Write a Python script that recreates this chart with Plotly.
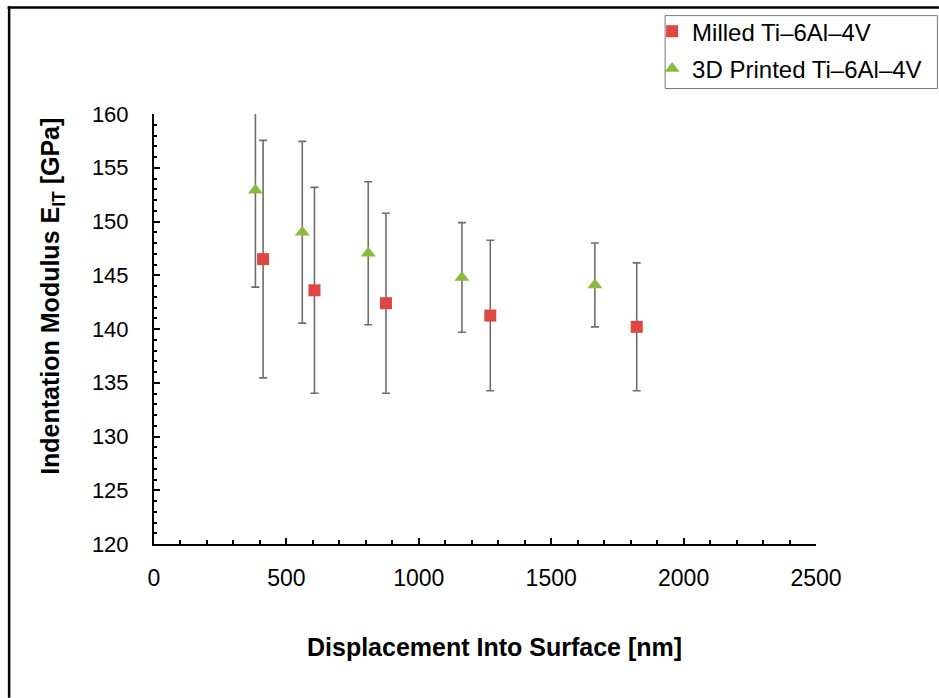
import plotly.graph_objects as go

# Displacement into surface [nm] and indentation modulus [GPa] with standard deviations
milled_depth = [412, 606, 876, 1270, 1823]
milled_modulus = [146.5, 143.6, 142.4, 141.25, 140.2]
milled_sd = [11.05, 9.57, 8.37, 7.0, 5.95]

printed_depth = [383, 560, 809, 1163, 1665]
printed_modulus = [152.9, 149.0, 147.05, 144.8, 144.1]
printed_sd = [9.0, 8.45, 6.65, 5.1, 3.9]

x_ticks = [0, 500, 1000, 1500, 2000, 2500]
y_ticks = [120, 125, 130, 135, 140, 145, 150, 155, 160]

FONT = "Liberation Sans, Arial, sans-serif"
ERR = dict(type="data", symmetric=True, color="rgb(110,110,110)", thickness=1.6, width=4)

fig = go.Figure()
fig.add_trace(go.Scatter(
    x=milled_depth, y=milled_modulus, mode="markers", name="Milled Ti\u20136Al\u20134V",
    legendgroup="milled",
    marker=dict(symbol="square", size=12, color="rgb(222,70,64)"),
    error_y=dict(array=milled_sd, **ERR),
))
fig.add_trace(go.Scatter(
    x=printed_depth, y=printed_modulus, mode="markers", name="3D Printed Ti\u20136Al\u20134V",
    legendgroup="printed",
    marker=dict(symbol="triangle-up", size=13, color="rgb(140,186,62)"),
    error_y=dict(array=printed_sd, **ERR),
))

L, R, T, B = 153.5, 816.0, 113.5, 544.0
W, H = 939, 698
pw, ph = R - L, B - T


def px(x):
    return (x - L) / pw


def py(y):
    return (B - y) / ph


fig.update_layout(
    width=W, height=H,
    margin=dict(l=L, r=W - R, t=T, b=H - B, pad=0, autoexpand=False),
    paper_bgcolor="white", plot_bgcolor="white",
    font=dict(family=FONT, color="black", size=22),
    showlegend=True,
    legend=dict(
        x=px(652), y=py(8.5), xanchor="left", yanchor="top",
        borderwidth=0, bgcolor="rgba(0,0,0,0)",
        font=dict(size=24, family=FONT, color="black"),
        tracegroupgap=3,
    ),
    xaxis=dict(
        range=[0, 2500], tickvals=x_ticks, ticks="inside", ticklen=6, tickwidth=1.5,
        tickcolor="black", showline=True, linecolor="black", linewidth=2,
        showgrid=False, zeroline=False, ticklabelstandoff=12,
        tickfont=dict(size=23),
        minor=dict(dtick=100, ticks="inside", ticklen=4, tickwidth=1.5, tickcolor="black", showgrid=False),
    ),
    yaxis=dict(
        range=[120, 160], tickvals=y_ticks, ticks="inside", ticklen=6, tickwidth=1.5,
        tickcolor="black", showline=True, linecolor="black", linewidth=2,
        showgrid=False, zeroline=False, ticklabelstandoff=19,
        tickfont=dict(size=22),
        minor=dict(dtick=1, ticks="inside", ticklen=3, tickwidth=1.5, tickcolor="black", showgrid=False),
    ),
    annotations=[
        dict(text="<b>Displacement Into Surface [nm]</b>", xref="paper", yref="paper",
             x=px(494), y=py(647), showarrow=False, xanchor="center", yanchor="middle",
             font=dict(size=25, family=FONT)),
        dict(text="<b>Indentation Modulus E<sub>IT</sub> [GPa]</b>", xref="paper", yref="paper",
             x=px(52), y=py(296), showarrow=False, xanchor="center", yanchor="middle",
             textangle=-90, font=dict(size=25, family=FONT)),
    ],
    shapes=[
        # outer frame (left and top edges)
        dict(type="line", xref="paper", yref="paper", x0=px(8.5), x1=px(8.5), y0=py(6), y1=py(H),
             line=dict(color="black", width=2.5)),
        dict(type="line", xref="paper", yref="paper", x0=px(7), x1=px(W), y0=py(7), y1=py(7),
             line=dict(color="black", width=2.5)),
        # legend box
        dict(type="rect", xref="paper", yref="paper", x0=px(665), x1=px(937.5), y0=py(15), y1=py(88),
             line=dict(color="rgb(120,120,120)", width=1), layer="below"),
    ],
)

fig.write_html("out.html")
